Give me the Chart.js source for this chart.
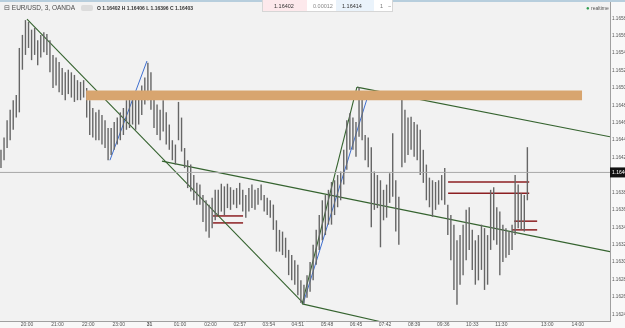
<!DOCTYPE html>
<html lang="en">
<head>
<meta charset="UTF-8">
<title>EUR/USD, 3, OANDA</title>
<style>
    html, body {
        margin: 0;
        padding: 0;
        background: #f8f8f8;
        overflow: hidden;
    }
    body {
        width: 625px;
        height: 328px;
        position: relative;
        font-family: "Liberation Sans", Arial, sans-serif;
    }
    #chart { position: absolute; left: 0; top: 0; }
    #topline {
        position: absolute; left: 0; top: 0;
        width: 625px; height: 2px;
        background: #b7cedd;
    }
    #legend {
        position: absolute; left: 4px; top: 4px;
        font-size: 6.5px; color: #4a4a4a;
        white-space: nowrap; line-height: 8px;
    }
    #legend .pill {
        display: inline-block; width: 12px; height: 6px;
        background: #dcdcdc; border-radius: 2px;
        vertical-align: middle; margin: 0 4px 0 6px;
    }
    #legend .ohlc { font-size: 5px; color: #333; font-weight: bold; }
    #trade {
        position: absolute; left: 262px; top: 0;
        width: 131px; height: 12px;
        background: #fff; border: 1px solid #d6d6d6; border-top: none;
        font-size: 5.5px; color: #333; box-sizing: border-box;
    }
    #trade span { position: absolute; top: 3px; }
    #trade .sell { left: 0; top: 0; width: 44px; height: 11px; background: #fde9ec; }
    #trade .buy { left: 73px; top: 0; width: 38px; height: 11px; background: #eaf3fb; }
    #realtime {
        position: absolute; left: 586px; top: 5px;
        font-size: 5px; color: #555;
    }
    #realtime b { color: #2e9d4f; font-size: 6px; }
</style>
</head>
<body>
<canvas id="chart" width="625" height="328"></canvas>
<div id="topline"></div>
<div id="legend">&#8863; EUR/USD, 3, OANDA<span class="pill"></span><span class="ohlc">O 1.16402 H 1.16406 L 1.16396 C 1.16403</span></div>
<div id="trade">
    <span class="sell"></span><span class="buy"></span>
    <span style="left:11px">1.16402</span>
    <span style="left:50px;color:#888">0.00012</span>
    <span style="left:79px">1.16414</span>
    <span style="left:117px;color:#777">1</span>
    <span style="left:125px;color:#777">&#8722;</span>
</div>
<div id="realtime"><b>&#9679;</b> realtime</div>

<script src="https://cdn.jsdelivr.net/npm/chart.js"></script>
<script>
    // time axis: hours after 19:00 on the 30th, one bar every 6 minutes
    const barStart = 0.15;
    const barStep = 0.1;

    const highs = [
        1.16429, 1.16443, 1.16463, 1.16475, 1.16486, 1.16492, 1.16546, 1.16561, 1.16578, 1.16576,
        1.16567, 1.16569, 1.16555, 1.16561, 1.16564, 1.16562, 1.16555, 1.16538, 1.16535, 1.16530,
        1.16523, 1.16518, 1.16521, 1.16518, 1.16515, 1.16509, 1.16507, 1.16509, 1.16500, 1.16486,
        1.16477, 1.16472, 1.16475, 1.16469, 1.16463, 1.16454, 1.16454, 1.16461, 1.16466, 1.16472,
        1.16477, 1.16486, 1.16489, 1.16492, 1.16495, 1.16492, 1.16503, 1.16512, 1.16529, 1.16518,
        1.16492, 1.16481, 1.16475, 1.16486, 1.16472, 1.16458, 1.16440, 1.16435, 1.16484, 1.16466,
        1.16431, 1.16417, 1.16412, 1.16400, 1.16391, 1.16389, 1.16377, 1.16371, 1.16366, 1.16374,
        1.16383, 1.16383, 1.16390, 1.16387, 1.16390, 1.16386, 1.16383, 1.16385, 1.16391, 1.16383,
        1.16377, 1.16385, 1.16389, 1.16383, 1.16385, 1.16389, 1.16377, 1.16374, 1.16371, 1.16366,
        1.16348, 1.16337, 1.16335, 1.16328, 1.16314, 1.16308, 1.16302, 1.16297, 1.16279, 1.16274,
        1.16285, 1.16300, 1.16320, 1.16337, 1.16354, 1.16371, 1.16377, 1.16383, 1.16392, 1.16394,
        1.16400, 1.16404, 1.16429, 1.16463, 1.16471, 1.16466, 1.16461, 1.16501, 1.16492, 1.16446,
        1.16443, 1.16432, 1.16404, 1.16400, 1.16394, 1.16383, 1.16389, 1.16402, 1.16448, 1.16394,
        1.16375, 1.16494, 1.16475, 1.16466, 1.16467, 1.16461, 1.16458, 1.16452, 1.16429, 1.16412,
        1.16397, 1.16394, 1.16392, 1.16394, 1.16400, 1.16408, 1.16366, 1.16354, 1.16343, 1.16325,
        1.16331, 1.16343, 1.16360, 1.16363, 1.16337, 1.16325, 1.16331, 1.16343, 1.16339, 1.16331,
        1.16383, 1.16386, 1.16363, 1.16358, 1.16343, 1.16339, 1.16335, 1.16343, 1.16400, 1.16389,
        1.16379, 1.16377, 1.16432
    ];

    const lows = [
        1.16408, 1.16417, 1.16431, 1.16440, 1.16452, 1.16466, 1.16472, 1.16521, 1.16538, 1.16546,
        1.16532, 1.16538, 1.16526, 1.16535, 1.16541, 1.16538, 1.16518, 1.16500, 1.16503, 1.16495,
        1.16492, 1.16486, 1.16493, 1.16489, 1.16484, 1.16486, 1.16486, 1.16489, 1.16466, 1.16446,
        1.16443, 1.16440, 1.16440, 1.16435, 1.16431, 1.16417, 1.16423, 1.16429, 1.16435, 1.16440,
        1.16446, 1.16452, 1.16454, 1.16458, 1.16452, 1.16458, 1.16469, 1.16481, 1.16486, 1.16475,
        1.16454, 1.16446, 1.16440, 1.16450, 1.16435, 1.16429, 1.16417, 1.16412, 1.16440, 1.16427,
        1.16408, 1.16385, 1.16381, 1.16371, 1.16366, 1.16366, 1.16346, 1.16335, 1.16328, 1.16339,
        1.16348, 1.16354, 1.16358, 1.16354, 1.16362, 1.16360, 1.16366, 1.16362, 1.16366, 1.16358,
        1.16351, 1.16358, 1.16362, 1.16360, 1.16366, 1.16371, 1.16358, 1.16354, 1.16351, 1.16337,
        1.16312, 1.16312, 1.16308, 1.16305, 1.16285, 1.16279, 1.16274, 1.16262, 1.16253, 1.16252,
        1.16259, 1.16266, 1.16279, 1.16297, 1.16314, 1.16325, 1.16331, 1.16343, 1.16343, 1.16354,
        1.16363, 1.16371, 1.16389, 1.16406, 1.16429, 1.16429, 1.16421, 1.16444, 1.16440, 1.16417,
        1.16409, 1.16340, 1.16360, 1.16362, 1.16317, 1.16348, 1.16351, 1.16368, 1.16375, 1.16335,
        1.16320, 1.16409, 1.16414, 1.16423, 1.16429, 1.16421, 1.16417, 1.16400, 1.16391, 1.16371,
        1.16363, 1.16352, 1.16360, 1.16366, 1.16371, 1.16366, 1.16331, 1.16302, 1.16268, 1.16251,
        1.16274, 1.16285, 1.16302, 1.16314, 1.16291, 1.16274, 1.16279, 1.16291, 1.16268, 1.16274,
        1.16314, 1.16325, 1.16320, 1.16285, 1.16300, 1.16305, 1.16308, 1.16314, 1.16331, 1.16339,
        1.16337, 1.16335, 1.16371
    ];

    const timeTicks = [1, 2, 3, 4, 5, 6, 7, 7.95, 8.9, 9.85, 10.8, 11.75, 12.7, 13.65, 14.6, 15.55, 16.5, 18, 19];
    const timeLabels = ['20:00', '21:00', '22:00', '23:00', '31', '01:00', '02:00', '02:57', '03:54', '04:51',
                        '05:48', '06:45', '07:42', '08:39', '09:36', '10:33', '11:30', '13:00', '14:00'];
    const priceTicks = [1.1660, 1.1658, 1.1656, 1.1654, 1.1652, 1.1650, 1.1648, 1.1646, 1.1644, 1.1642,
                        1.1640, 1.1638, 1.1636, 1.1634, 1.1632, 1.1630, 1.1628, 1.1626, 1.1624];

    // drawings: [t1, price1, t2, price2]
    const greenLines = [
        [1.00, 1.16579, 10.02, 1.16253],
        [5.41, 1.16416, 20.05, 1.16312],
        [9.99, 1.16252, 11.78, 1.16501],
        [11.78, 1.16501, 20.05, 1.16444],
        [9.99, 1.16252, 12.86, 1.16229]
    ];
    const blueLines = [
        [3.71, 1.16417, 4.92, 1.16531],
        [10.02, 1.16252, 12.14, 1.16491]
    ];
    // [t1, t2, price]
    const redLevels = [
        [7.08, 8.06, 1.16353],
        [7.08, 8.06, 1.16345],
        [14.76, 17.41, 1.16392],
        [14.76, 17.41, 1.16379],
        [16.92, 17.67, 1.16347],
        [16.85, 17.67, 1.16337]
    ];
    const zoneTimes = [2.93, 19.14];
    const zonePrices = [1.16497, 1.16486];
    const lastPrice = 1.16403;

    const xMin = 0.118, xMax = 20.05;
    const yMin = 1.162323, yMax = 1.166011;

    const barTimes = highs.map((_, i) => +(barStart + i * barStep).toFixed(2));

    function segment(p, color, width) {
        return {
            type: 'line',
            data: [{ x: p[0], y: p[1] }, { x: p[2], y: p[3] }],
            borderColor: color,
            borderWidth: width,
            pointRadius: 0,
            fill: false
        };
    }

    const datasets = [];
    // supply zone
    datasets.push({
        type: 'line',
        data: zoneTimes.map(t => ({ x: t, y: zonePrices[0] })),
        borderWidth: 0, pointRadius: 0,
        backgroundColor: '#d8a56f',
        fill: '+1'
    });
    datasets.push({
        type: 'line',
        data: zoneTimes.map(t => ({ x: t, y: zonePrices[1] })),
        borderWidth: 0, pointRadius: 0, fill: false
    });
    // last price line
    datasets.push(segment([xMin, lastPrice, xMax, lastPrice], '#a8a8a8', 1));
    // price bars (high-low)
    datasets.push({
        type: 'bar',
        data: barTimes.map((t, i) => ({ x: t, y: [lows[i], highs[i]] })),
        backgroundColor: '#666666',
        barThickness: 1.4,
        inflateAmount: 0,
        borderWidth: 0
    });
    greenLines.forEach(p => datasets.push(segment(p, '#35632f', 1.1)));
    blueLines.forEach(p => datasets.push(segment(p, '#3f6fd0', 1)));
    redLevels.forEach(r => datasets.push(segment([r[0], r[2], r[1], r[2]], '#8c1f22', 1.5)));

    const chrome = {
        id: 'chrome',
        beforeDraw(chart) {
            const { ctx, chartArea: a } = chart;
            ctx.save();
            ctx.fillStyle = '#f2f2f2';
            ctx.fillRect(a.left, a.top, a.right - a.left, a.bottom - a.top);
            ctx.restore();
        },
        afterDraw(chart) {
            const { ctx, chartArea: a } = chart;
            const y = chart.scales.y.getPixelForValue(lastPrice);
            ctx.save();
            ctx.fillStyle = '#111';
            ctx.fillRect(a.right, y - 5, 20, 10);
            ctx.fillStyle = '#fff';
            ctx.font = '5px "Liberation Sans", Arial';
            ctx.textBaseline = 'middle';
            ctx.fillText(lastPrice.toFixed(5), a.right + 2, y);
            ctx.restore();
        }
    };

    new Chart(document.getElementById('chart'), {
        type: 'bar',
        data: { datasets },
        options: {
            responsive: false,
            animation: false,
            layout: { padding: 0 },
            plugins: { legend: { display: false }, tooltip: { enabled: false } },
            scales: {
                x: {
                    type: 'linear',
                    min: xMin, max: xMax,
                    offset: false,
                    grid: { drawOnChartArea: false, drawTicks: false },
                    border: { color: '#a0a0a0' },
                    afterBuildTicks: s => { s.ticks = timeTicks.map(v => ({ value: v })); },
                    afterFit: s => { s.height = 7; s.paddingLeft = 0; s.paddingRight = 0; },
                    ticks: {
                        autoSkip: false, maxRotation: 0, padding: 1,
                        color: '#555',
                        font: c => ({ size: 5, family: '"Liberation Sans", Arial', weight: timeLabels[c.index] === '31' ? 'bold' : 'normal' }),
                        callback: (v, i) => timeLabels[i]
                    }
                },
                y: {
                    position: 'right',
                    min: yMin, max: yMax,
                    grid: { drawOnChartArea: false, tickLength: 1, color: '#a0a0a0' },
                    border: { color: '#a0a0a0' },
                    afterBuildTicks: s => { s.ticks = priceTicks.map(v => ({ value: v })); },
                    afterFit: s => { s.width = 15; s.paddingTop = 0; s.paddingBottom = 0; },
                    ticks: {
                        padding: 1, color: '#555',
                        font: { size: 4.6, family: '"Liberation Sans", Arial' },
                        callback: v => v.toFixed(4)
                    }
                }
            }
        },
        plugins: [chrome]
    });
</script>
</body>
</html>
